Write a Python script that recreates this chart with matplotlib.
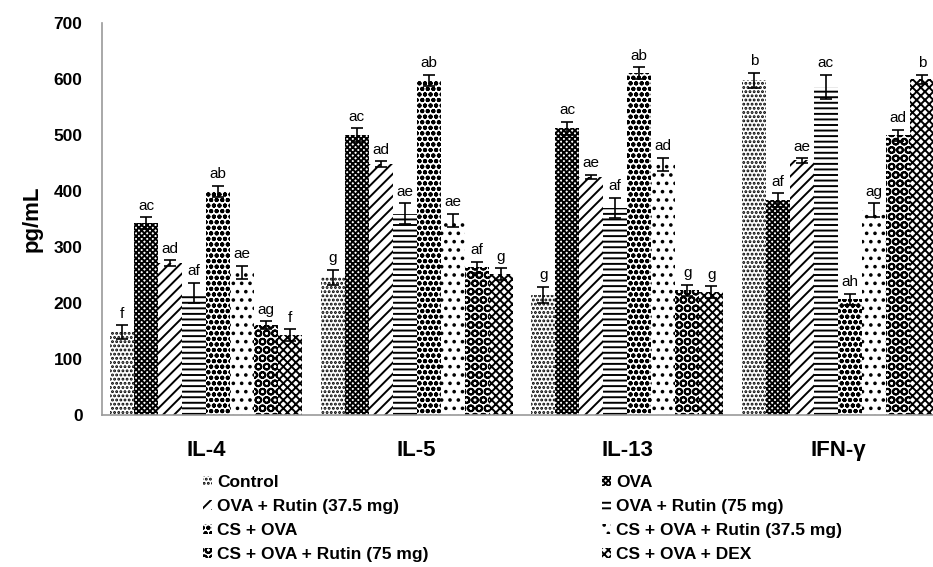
import numpy as np
import matplotlib.pyplot as plt
from matplotlib.patches import Patch

plt.rcParams['font.family'] = ['Liberation Sans', 'DejaVu Sans']
plt.rcParams['hatch.linewidth'] = 1.4

cytokines = ['IL-4', 'IL-5', 'IL-13', 'IFN-γ']
groups = ['Control', 'OVA', 'OVA + Rutin (37.5 mg)', 'OVA + Rutin (75 mg)',
          'CS + OVA', 'CS + OVA + Rutin (37.5 mg)', 'CS + OVA + Rutin (75 mg)',
          'CS + OVA + DEX']

# values per group, one entry per cytokine
control = [148, 246, 215, 598]
ova = [343, 500, 512, 384]
rutin375 = [272, 448, 425, 455]
rutin75 = [218, 360, 370, 586]
cs_ova = [400, 598, 611, 207]
cs_rutin375 = [255, 348, 448, 366]
cs_rutin75 = [161, 264, 223, 500]
cs_dex = [143, 252, 220, 600]

control_err = [12, 14, 14, 14]
ova_err = [10, 12, 12, 12]
rutin375_err = [5, 5, 4, 4]
rutin75_err = [18, 18, 18, 22]
cs_ova_err = [10, 10, 10, 10]
cs_rutin375_err = [12, 12, 12, 12]
cs_rutin75_err = [7, 10, 10, 10]
cs_dex_err = [10, 10, 10, 8]

letters = [['f', 'g', 'g', 'b'],
           ['ac', 'ac', 'ac', 'af'],
           ['ad', 'ad', 'ae', 'ae'],
           ['af', 'ae', 'af', 'ac'],
           ['ab', 'ab', 'ab', 'ah'],
           ['ae', 'ae', 'ad', 'ag'],
           ['ag', 'af', 'g', 'ad'],
           ['f', 'g', 'g', 'b']]

values = [control, ova, rutin375, rutin75, cs_ova, cs_rutin375, cs_rutin75, cs_dex]
errors = [control_err, ova_err, rutin375_err, rutin75_err, cs_ova_err,
          cs_rutin375_err, cs_rutin75_err, cs_dex_err]
hatches = ['....', 'xxxxxx', '///', '---', 'ooo', '..', 'OO', 'xxxx']

fig = plt.figure(figsize=(9.33, 5.67), dpi=100)
ax = fig.add_axes([0.1093, 0.268, 0.8907, 0.691])

x = np.arange(len(cytokines))
w = 0.114
for i, (vals, errs) in enumerate(zip(values, errors)):
    pos = x + (i - 3.5) * w
    ax.bar(pos, vals, w, color='white', edgecolor='black', linewidth=0,
           hatch=hatches[i], label=groups[i])
    ax.errorbar(pos, vals, yerr=errs, fmt='none', ecolor='black',
                elinewidth=1.2, capsize=4, capthick=1.2)
    for p, v, e, t in zip(pos, vals, errs, letters[i]):
        ax.text(p, v + e + 8, t, ha='center', va='bottom', fontsize=11)

ax.set_xlim(-0.495, 3.452)
ax.set_ylim(0, 700)
ax.set_yticks(np.arange(0, 701, 100))
ax.set_xticks(x)
ax.set_xticklabels(cytokines, fontsize=16, fontweight='bold')
ax.tick_params(axis='both', length=0)
ax.tick_params(axis='y', labelsize=12.5, pad=14)
ax.tick_params(axis='x', pad=18)
for lab in ax.get_yticklabels():
    lab.set_fontweight('bold')
ax.set_ylabel('pg/mL', fontsize=16, fontweight='bold', labelpad=8)
for s in ['top', 'right']:
    ax.spines[s].set_visible(False)
for s in ['left', 'bottom']:
    ax.spines[s].set_color('#999999')
    ax.spines[s].set_linewidth(1.2)

handles = [Patch(facecolor='white', edgecolor='black', linewidth=0,
                 hatch=hatches[i], label=groups[i]) for i in range(8)]
order = [0, 2, 4, 6, 1, 3, 5, 7]
fig.legend([handles[i] for i in order], [groups[i] for i in order],
           loc='upper left', bbox_to_anchor=(0.21, 0.174), ncol=2,
           frameon=False, prop={'weight': 'bold', 'size': 12.5},
           handlelength=0.5, handleheight=0.5, handletextpad=0.3,
           columnspacing=10.0, labelspacing=0.52, borderaxespad=0)

fig.savefig('out.png', dpi=100)
